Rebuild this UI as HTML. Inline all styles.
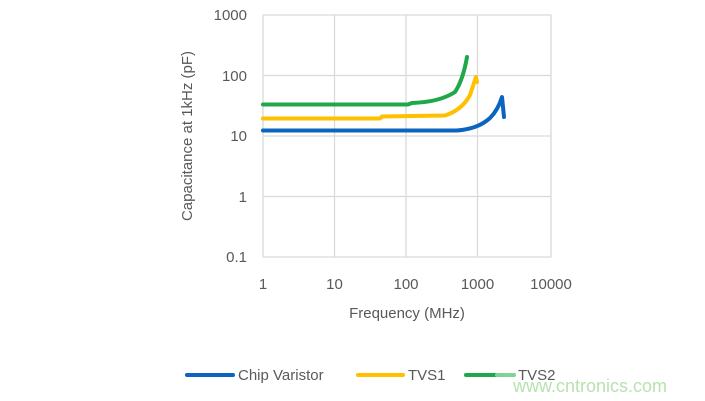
<!DOCTYPE html>
<html><head><style>
body{margin:0;background:#fff;}
svg{display:block;font-family:"Liberation Sans",sans-serif;}
</style></head><body>
<svg width="705" height="401" viewBox="0 0 705 401">
<g stroke="#d9d9d9" stroke-width="1.3" fill="none">
<line x1="263" y1="15" x2="551" y2="15"/><line x1="263" y1="75.5" x2="551" y2="75.5"/>
<line x1="263" y1="136" x2="551" y2="136"/><line x1="263" y1="196.5" x2="551" y2="196.5"/>
<line x1="263" y1="257" x2="551" y2="257"/>
<line x1="263" y1="15" x2="263" y2="257"/><line x1="334.5" y1="15" x2="334.5" y2="257"/>
<line x1="406" y1="15" x2="406" y2="257"/><line x1="477.5" y1="15" x2="477.5" y2="257"/>
<line x1="551" y1="15" x2="551" y2="257"/>
</g>
<g fill="#595959" font-size="15" text-anchor="end">
<text x="247" y="20">1000</text><text x="247" y="81">100</text><text x="247" y="141">10</text>
<text x="247" y="202">1</text><text x="247" y="262">0.1</text>
</g>
<g fill="#595959" font-size="15" text-anchor="middle">
<text x="263" y="289">1</text><text x="334.5" y="289">10</text><text x="406" y="289">100</text>
<text x="477.5" y="289">1000</text><text x="551" y="289">10000</text>
<text x="407" y="318">Frequency (MHz)</text>
<text transform="translate(192,136) rotate(-90)">Capacitance at 1kHz (pF)</text>
</g>
<g fill="none" stroke-width="4" stroke-linejoin="round" stroke-linecap="round">
<path stroke="#0a64c0" d="M263 130.5 L457 130.5 Q478 129 490 118 Q498 110 502 97 L504 117"/>
<path stroke="#ffc000" d="M263 118.5 L380 118.5 L382 116.5 L445 115.5 Q462 110 470 95 L476 77 L477 82"/>
<path stroke="#1fa84a" d="M263 104.5 L408 104.5 L412 103 Q440 102 455 92 Q463 80 467 57"/>
</g>
<g font-size="15" fill="#595959">
<line x1="187" y1="375" x2="233" y2="375" stroke="#0a64c0" stroke-width="4" stroke-linecap="round"/>
<text x="238" y="380">Chip Varistor</text>
<line x1="358" y1="375" x2="403" y2="375" stroke="#ffc000" stroke-width="4" stroke-linecap="round"/>
<text x="408" y="380">TVS1</text>
<line x1="466" y1="375" x2="497" y2="375" stroke="#1fa84a" stroke-width="4" stroke-linecap="round"/>
<line x1="497" y1="375" x2="514" y2="375" stroke="#7fd39a" stroke-width="4" stroke-linecap="round"/>
<text x="518" y="380">TVS2</text>
</g>
<text x="513" y="392" font-size="18" fill="#b8e2b0">www.cntronics.com</text>
</svg>
</body></html>
